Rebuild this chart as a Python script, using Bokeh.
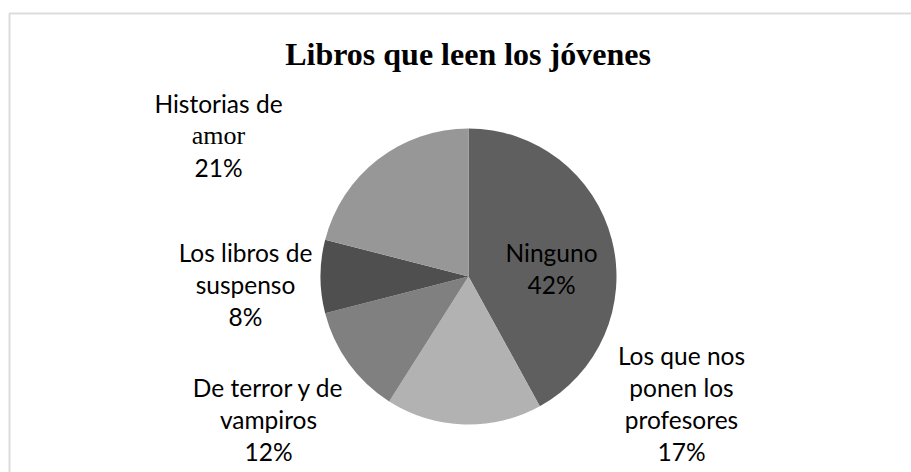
import textwrap
import numpy as np
from bokeh.plotting import figure
from bokeh.models import ColumnDataSource, Range1d, BoxAnnotation, Label
from bokeh.embed import file_html
from bokeh.resources import INLINE

# ---- data ----
title_text = "Libros que leen los jóvenes"
categories = ["Ninguno", "Los que nos ponen los profesores", "De terror y de vampiros",
              "Los libros de suspenso", "Historias de amor"]
values = [42, 17, 12, 8, 21]

# ---- style / layout ----
colors = ["#5f5f5f", "#b2b2b2", "#808080", "#4f4f4f", "#979797"]
label_dx = [83, 213, -200, -223, -250]     # label block offset from pie centre (px, right +)
label_dy = [2, 137, 153, 17.5, -131]       # label block mid-baseline offset (px, down +)
serif_lines = {(4, 1)}                     # "amor" is set in a serif face in the original
wrap_width = 14
line_gap = 32
label_font = "Lato"
label_size = "24.5px"
serif_size = "26px"
text_shift = 10                            # baseline correction (px, up)

W, H = 911, 472
PAGE_OFF = 0
def px(x):
    return x - PAGE_OFF
def py(y):
    return H - (y - PAGE_OFF)

cx, cy, r = px(468), py(276), 148

p = figure(width=W, height=H, x_range=Range1d(0, W), y_range=Range1d(0, H),
           output_backend="svg", toolbar_location=None, min_border=0,
           x_axis_location=None, y_axis_location=None)
p.grid.visible = False
p.outline_line_color = None
p.background_fill_color = "white"
p.border_fill_color = "white"

# outer chart frame (only top/left edges visible in the window)
p.add_layout(BoxAnnotation(left=px(9), right=px(3000), top=py(13), bottom=py(3000),
                           fill_alpha=0, line_color="#8a8a8a", line_width=2))

vals = np.array(values, dtype=float)
frac = vals / vals.sum()
cum = np.cumsum(frac)
start = np.pi / 2 - 2 * np.pi * (cum - frac)
end = np.pi / 2 - 2 * np.pi * cum

src = ColumnDataSource(dict(start=start, end=end, color=colors, cat=categories, val=values))
p.wedge(x=cx, y=cy, radius=r, start_angle="start", end_angle="end", direction="clock",
        fill_color="color", line_color=None, source=src)

# labels
tx, ty, tt, tf, ts = [], [], [], [], []
for i, (cat, v) in enumerate(zip(categories, values)):
    lines = textwrap.wrap(cat, wrap_width) + [f"{v}%"]
    n = len(lines)
    mid = cy - label_dy[i] + text_shift
    for j, ln in enumerate(lines):
        serif = (i, j) in serif_lines
        tx.append(cx + label_dx[i])
        ty.append(mid - (j - (n - 1) / 2) * line_gap)
        tt.append(ln)
        tf.append("Liberation Serif" if serif else label_font)
        ts.append(serif_size if serif else label_size)
lsrc = ColumnDataSource(dict(x=tx, y=ty, text=tt, font=tf, size=ts))
p.text(x="x", y="y", text="text", text_font="font", text_font_size="size",
       text_align="center", text_baseline="alphabetic", text_color="black", source=lsrc)

p.add_layout(Label(x=px(467.5), y=py(63) + text_shift, text=title_text, text_align="center",
                   text_baseline="alphabetic", text_font="Liberation Serif",
                   text_font_style="bold", text_font_size="32px", text_color="black"))

open("out.html", "w").write(file_html(p, INLINE))
